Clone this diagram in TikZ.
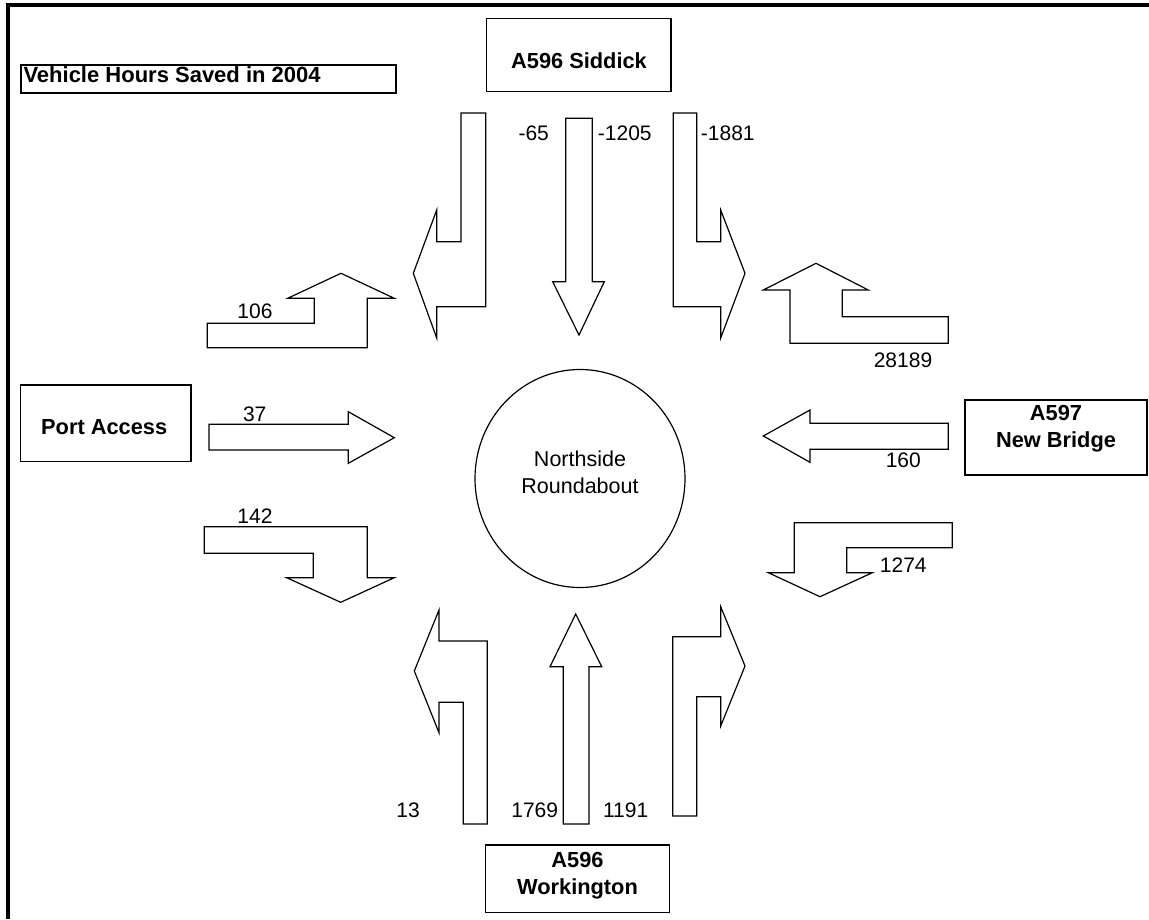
\documentclass[tikz,border=0pt]{standalone}
\usepackage{fontspec}
\setmainfont{Liberation Sans}
\usetikzlibrary{shapes.geometric}
\begin{document}
\begin{tikzpicture}[x=1pt,y=-1pt,
  blk/.style={draw, line width=1.2pt, fill=white, line join=miter},
  box/.style={draw, line width=1.2pt, inner sep=0pt},
  num/.style={inner sep=0pt, font=\fontsize{21}{24}\selectfont},
  bt/.style={inner sep=0pt, align=center, font=\fontsize{21.8}{27}\selectfont\bfseries},
  ct/.style={inner sep=0pt, align=center, font=\fontsize{21.5}{27}\selectfont}]
\useasboundingbox (0,0) rectangle (1149,919);
% frame lines
\draw[line width=3.5pt] (8,919) -- (8,5) -- (1149,5);
% title
\node[draw, line width=2pt, minimum width=375.3pt, minimum height=27.7pt, inner sep=0pt] (ttlbox) at (208.35,78.85) {};
\node[anchor=base west, inner sep=0pt, font=\fontsize{22}{26}\selectfont\bfseries] (ttl) at (23.3,82.7) {Vehicle Hours Saved in 2004};
% boxes
\node[box, minimum width=184.3pt, minimum height=73.4pt] (sid) at (578.85,55) {};
\node[bt] (sidt) at (579,60.5) {A596 Siddick};
\node[box, minimum width=170.3pt, minimum height=76.5pt] (port) at (105.85,423.25) {};
\node[bt] (portt) at (104.2,427.2) {Port Access};
\node[box, minimum width=182pt, minimum height=75pt] (nb) at (1056,437.5) {};
\node[bt] (nbt) at (1056,428.5) {A597\\New Bridge};
\node[box, minimum width=183.6pt, minimum height=67.7pt] (wk) at (577.5,878.85) {};
\node[bt] (wkt) at (577.5,876) {A596\\Workington};
% roundabout
\node[draw, line width=1.2pt, ellipse, minimum width=210pt, minimum height=218pt, inner sep=0pt] (rb) at (580,478.5) {};
\node[ct] (rbt) at (580,472) {Northside\\Roundabout};
% top arrows
\draw[blk] (461,113)--(485.7,113)--(485.7,306.7)--(436.7,306.7)--(436.7,338)--(413.3,273.3)--(436.7,210)--(436.7,241.7)--(461,241.7)--cycle;
\draw[blk] (565.7,118.3)--(592.3,118.3)--(592.3,281.7)--(604.3,281.7)--(579,335)--(552.7,281.7)--(565.7,281.7)--cycle;
\draw[blk] (673.3,113)--(696.7,113)--(696.7,241.7)--(720.7,241.7)--(720.7,210)--(745,273.3)--(720.7,338)--(720.7,306.7)--(673.3,306.7)--cycle;
% left arrows
\draw[blk] (207.3,323.3)--(314.3,323.3)--(314.3,298.3)--(287.7,298.3)--(341,273.3)--(394.3,298.3)--(367.3,298.3)--(367.3,347.7)--(207.3,347.7)--cycle;
\draw[blk] (209,424.3)--(348.3,424.3)--(348.3,411.7)--(394.3,437.7)--(348.3,463.3)--(348.3,450)--(209,450)--cycle;
\draw[blk] (204.3,526.7)--(367.3,526.7)--(367.3,577.7)--(394.3,577.7)--(340.7,602.3)--(286.7,577.7)--(313.3,577.7)--(313.3,553.3)--(204.3,553.3)--cycle;
% right arrows
\draw[blk] (790,343.3)--(948.3,343.3)--(948.3,316.7)--(842.3,316.7)--(842.3,290)--(868.3,290)--(816,263.3)--(763.3,290)--(790,290)--cycle;
\draw[blk] (948.3,423.3)--(948.3,449.3)--(810,449.3)--(810,462.3)--(763.3,436)--(810,410)--(810,423.3)--cycle;
\draw[blk] (794.3,522.7)--(952.3,522.7)--(952.3,547.7)--(846.7,547.7)--(846.7,572.7)--(872.3,572.7)--(820,596.7)--(768.3,572.7)--(794.3,572.7)--cycle;
% bottom arrows
\draw[blk] (463.3,824)--(487.3,824)--(487.3,641)--(439,641)--(439,610)--(414.3,671)--(439,732.7)--(439,702.3)--(463.3,702.3)--cycle;
\draw[blk] (563.3,824)--(589,824)--(589,666.7)--(601.7,666.7)--(575.7,614)--(550,666.7)--(563.3,666.7)--cycle;
\draw[blk] (672.7,816)--(696.7,816)--(696.7,696.7)--(720.7,696.7)--(720.7,726)--(745,666)--(720.7,606.7)--(720.7,636.7)--(672.7,636.7)--cycle;
% numbers
\node[num] (n1) at (533.7,133.7) {-65};
\node[num] (n2) at (624.8,133.7) {-1205};
\node[num] (n3) at (727.8,133.7) {-1881};
\node[num] (n4) at (255,311.7) {106};
\node[num] (n5) at (254.7,414.7) {37};
\node[num] (n6) at (255,515.8) {142};
\node[num] (n7) at (903,360.5) {28189};
\node[num] (n8) at (903.3,460) {160};
\node[num] (n9) at (903.3,565.5) {1274};
\node[num] (n10) at (408,810) {13};
\node[num] (n11) at (534.7,810) {1769};
\node[num] (n12) at (625.7,810) {1191};
\end{tikzpicture}
\end{document}
